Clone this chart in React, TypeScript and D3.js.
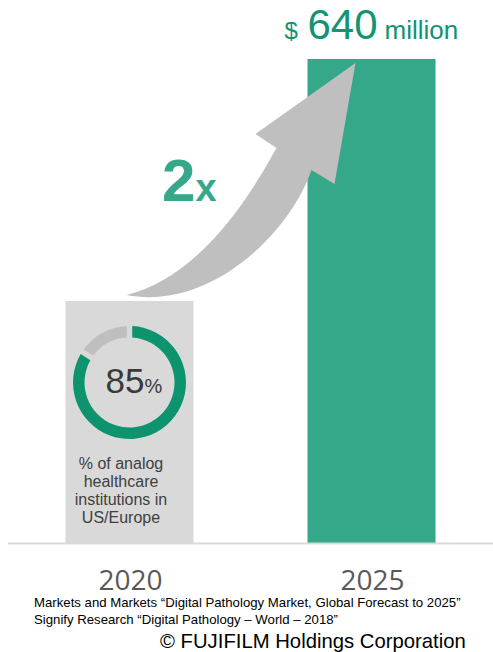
import React from "react";
import * as d3 from "d3";

const years = ["2020", "2025"];
const marketValues = [320, 640]; // $ million
const analogShare = [85, 15]; // % analog vs rest
const labelLines = ["% of analog", "healthcare", "institutions in", "US/Europe"];
const sourceLines = [
  "Markets and Markets \u201cDigital Pathology Market, Global Forecast to 2025\u201d",
  "Signify Research \u201cDigital Pathology \u2013 World \u2013 2018\u201d",
];

const W = 493;
const H = 652;
const FONT = "'Liberation Sans', Arial, sans-serif";

export default function App() {
  const x = d3
    .scaleBand<string>()
    .domain(years)
    .range([8, 493])
    .paddingInner(0.471)
    .paddingOuter(0.2376);
  const y = d3.scaleLinear().domain([0, 640]).range([543, 59]);
  const bw = x.bandwidth();

  const cx0 = (x("2020") as number) + bw / 2;
  const cx1 = (x("2025") as number) + bw / 2;

  // donut
  const pie = d3
    .pie<number>()
    .sort(null)
    .padAngle(0.075)
    .value((d) => d);
  const arc = d3.arc<d3.PieArcDatum<number>>().innerRadius(45).outerRadius(56.5);
  const arcs = pie(analogShare);
  const donutCy = 382.5;

  // arrow anchored to bar tops
  const top0 = y(marketValues[0]);
  const top1 = y(marketValues[1]);
  const bx = x("2025") as number;
  const p = d3.path();
  p.moveTo(cx0 - 3, top0 - 6);
  p.quadraticCurveTo(cx0 + 78, top0 - 26, bx - 31, top1 + 89);
  p.lineTo(bx - 52, top1 + 75);
  p.lineTo(bx + 48, top1 + 4);
  p.lineTo(bx + 27, top1 + 125);
  p.lineTo(bx + 4, top1 + 111);
  p.bezierCurveTo(cx0 + 160, top0 - 67, cx0 + 80, top0 + 10, cx0 - 3, top0 - 6);
  p.closePath();

  return (
    <svg width={W} height={H} style={{ position: "absolute", left: 0, top: 0 }}>
      <rect width={W} height={H} fill="#ffffff" />
      {/* bars */}
      <rect x={x("2020")} y={y(marketValues[0])} width={bw} height={y(0) - y(marketValues[0])} fill="#d9d9d9" />
      <rect x={x("2025")} y={y(marketValues[1])} width={bw} height={y(0) - y(marketValues[1])} fill="#36a88a" />
      {/* arrow */}
      <path d={p.toString()} fill="#bfbfbf" />
      {/* baseline */}
      <line x1={8} x2={493} y1={y(0) + 0.5} y2={y(0) + 0.5} stroke="#d9d9d9" strokeWidth={2} />

      {/* donut */}
      <g transform={`translate(${cx0},${donutCy})`}>
        {arcs.map((a, i) => (
          <path key={i} d={arc(a) as string} fill={i === 0 ? "#0d946f" : "#bfbfbf"} />
        ))}
        <text x={-24} y={10} fontFamily={FONT} fill="#3a3a3a">
          <tspan fontSize={35}>{analogShare[0]}</tspan>
          <tspan fontSize={20}>%</tspan>
        </text>
      </g>

      {/* label */}
      {labelLines.map((l, i) => (
        <text key={l} x={cx0 - 8.5} y={469 + i * 18} textAnchor="middle" fontFamily={FONT} fontSize={16} fill="#404040">
          {l}
        </text>
      ))}

      {/* 2x */}
      <text x={162} y={201} fontFamily={FONT} fontWeight="bold" fill="#36a88a">
        <tspan fontSize={60}>2</tspan>
        <tspan fontSize={38}>x</tspan>
      </text>

      {/* value label */}
      <g fontFamily={FONT} fill="#119470">
        <text x={cx1 - 87} y={39} fontSize={24}>$</text>
        <text x={cx1 - 64} y={39} fontSize={42}>{marketValues[1]}</text>
        <text x={cx1 + 13} y={39} fontSize={26}>million</text>
      </g>

      {/* year labels */}
      {years.map((yr) => (
        <text key={yr} x={(x(yr) as number) + bw / 2 + 1} y={590} textAnchor="middle" fontFamily="'Open Sans', sans-serif" fontSize={28} fill="#595959">
          {yr}
        </text>
      ))}

      {/* sources */}
      {sourceLines.map((s, i) => (
        <text key={i} x={34} y={607 + i * 17} fontFamily={FONT} fontSize={13.2} fill="#000000">
          {s}
        </text>
      ))}
      <text x={160} y={648} fontFamily={FONT} fontSize={20.3} fill="#000000">
        © FUJIFILM Holdings Corporation
      </text>
    </svg>
  );
}
